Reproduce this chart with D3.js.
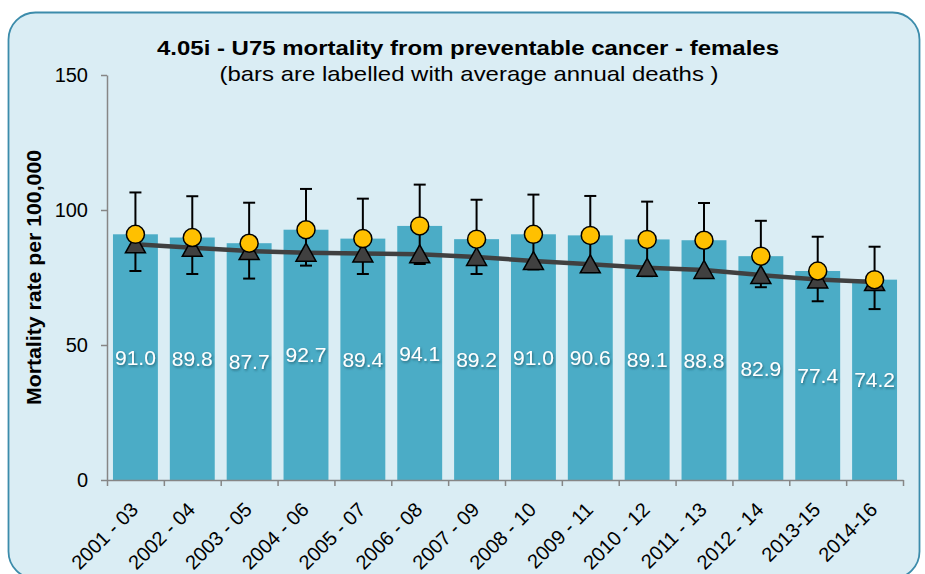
<!DOCTYPE html>
<html>
<head>
<meta charset="utf-8">
<script src="https://cdn.jsdelivr.net/npm/d3@7"></script>
<style>
  body { margin: 0; background: #fff; }
  svg { display: block; font-family: Arial, "Liberation Sans", sans-serif; }
</style>
</head>
<body>
<script>
// chart data
let categories = ['2001 - 03', '2002 - 04', '2003 - 05', '2004 - 06', '2005 - 07', '2006 - 08', '2007 - 09',
                  '2008 - 10', '2009 - 11', '2010 - 12', '2011 - 13', '2012 - 14', '2013-15', '2014-16']
let rates = [91.0, 89.8, 87.7, 92.7, 89.4, 94.1, 89.2, 91.0, 90.6, 89.1, 88.8, 82.9, 77.4, 74.2]
let upperCI = [106.5, 105.1, 102.7, 107.8, 104.2, 109.4, 103.8, 105.7, 105.2, 103.1, 102.6, 96.0, 90.1, 86.4]
let lowerCI = [77.4, 76.3, 74.6, 79.4, 76.3, 80.0, 76.3, 78.0, 77.0, 75.5, 75.0, 71.4, 66.2, 63.3]
let comparator = [87.3, 86.0, 84.8, 84.2, 83.9, 83.6, 82.6, 81.1, 79.9, 78.6, 77.8, 75.9, 74.3, 73.3]
let yTicks = [0, 50, 100, 150]

let width = 925
let height = 574
let plotLeft = 107, plotRight = 903, plotTop = 75, plotBottom = 480

let svg = d3.select('body').append('svg')
    .attr('width', width)
    .attr('height', height)

// drop shadow for bar labels
let filter = svg.append('defs').append('filter')
    .attr('id', 'shadow')
    .attr('x', '-20%').attr('y', '-20%').attr('width', '140%').attr('height', '140%')
filter.append('feDropShadow')
    .attr('dx', 1).attr('dy', 1.5).attr('stdDeviation', 0.8)
    .attr('flood-color', '#1d4f5e').attr('flood-opacity', 0.7)

// panel
svg.append('rect')
    .attr('x', 8.5).attr('y', 12.5)
    .attr('width', 911).attr('height', 566)
    .attr('rx', 27).attr('ry', 27)
    .attr('fill', '#daedf4')
    .attr('stroke', '#3c8cab')
    .attr('stroke-width', 1.8)

let xScale = d3.scaleBand()
    .domain(categories)
    .range([plotLeft, plotRight])
    .paddingInner(0.21)
    .paddingOuter(0.105)

let yScale = d3.scaleLinear()
    .domain([0, 150])
    .range([plotBottom, plotTop])

let idxScale = d3.scaleLinear()
    .domain([0, categories.length])
    .range([plotLeft, plotRight])

let cx = (i) => xScale(categories[i]) + xScale.bandwidth() / 2

// bars
svg.selectAll('.bar')
    .data(rates)
    .enter()
    .append('rect')
    .attr('class', 'bar')
    .attr('x', (d, i) => xScale(categories[i]))
    .attr('y', d => yScale(d))
    .attr('width', xScale.bandwidth())
    .attr('height', d => plotBottom - yScale(d))
    .attr('fill', '#4bacc6')

// bar labels
svg.selectAll('.bar-label')
    .data(rates)
    .enter()
    .append('text')
    .attr('class', 'bar-label')
    .attr('x', (d, i) => cx(i))
    .attr('y', d => (yScale(d) + plotBottom) / 2)
    .attr('dy', '0.36em')
    .attr('text-anchor', 'middle')
    .attr('fill', '#fff')
    .attr('font-size', 21)
    .attr('filter', 'url(#shadow)')
    .text(d => d3.format('.1f')(d))

// axes
let xAxis = d3.axisBottom(idxScale)
    .tickValues(d3.range(categories.length + 1))
    .tickFormat('')
    .tickSizeInner(6)
    .tickSizeOuter(0)
let gx = svg.append('g')
    .attr('transform', 'translate(0,' + plotBottom + ')')
    .call(xAxis)
gx.selectAll('path, line').attr('stroke', '#868686').attr('stroke-width', 1.5)

let yAxis = d3.axisLeft(yScale)
    .tickValues(yTicks)
    .tickSizeInner(6)
    .tickSizeOuter(0)
    .tickPadding(13)
let gy = svg.append('g')
    .attr('transform', 'translate(' + plotLeft + ',0)')
    .call(yAxis)
gy.selectAll('path, line').attr('stroke', '#868686').attr('stroke-width', 1.5)
gy.selectAll('text')
    .attr('font-size', 20)
    .attr('font-family', 'Arial, "Liberation Sans", sans-serif')
    .attr('fill', '#000')

// x labels
svg.selectAll('.x-label')
    .data(categories)
    .enter()
    .append('text')
    .attr('class', 'x-label')
    .attr('transform', (d, i) => `translate(${cx(i) + 4}, 511) rotate(-45)`)
    .attr('text-anchor', 'end')
    .attr('font-size', 20)
    .attr('fill', '#000')
    .text(d => d)

// error bars
let err = svg.append('g')
err.selectAll('.err-v')
    .data(rates)
    .enter()
    .append('line')
    .attr('x1', (d, i) => cx(i)).attr('x2', (d, i) => cx(i))
    .attr('y1', (d, i) => yScale(upperCI[i]))
    .attr('y2', (d, i) => yScale(lowerCI[i]))
    .attr('stroke', '#000').attr('stroke-width', 2)
err.selectAll('.err-top')
    .data(upperCI)
    .enter()
    .append('line')
    .attr('x1', (d, i) => cx(i) - 6).attr('x2', (d, i) => cx(i) + 6)
    .attr('y1', d => yScale(d)).attr('y2', d => yScale(d))
    .attr('stroke', '#000').attr('stroke-width', 2)
err.selectAll('.err-bot')
    .data(lowerCI)
    .enter()
    .append('line')
    .attr('x1', (d, i) => cx(i) - 6).attr('x2', (d, i) => cx(i) + 6)
    .attr('y1', d => yScale(d)).attr('y2', d => yScale(d))
    .attr('stroke', '#000').attr('stroke-width', 2)

// comparator line + triangles
let line = d3.line()
    .x((d, i) => cx(i))
    .y(d => yScale(d))
svg.append('path')
    .datum(comparator)
    .attr('d', line)
    .attr('fill', 'none')
    .attr('stroke', '#404040')
    .attr('stroke-width', 4.5)

svg.selectAll('.tri')
    .data(comparator)
    .enter()
    .append('path')
    .attr('class', 'tri')
    .attr('d', 'M0,-9.5L10,8.5L-10,8.5Z')
    .attr('transform', (d, i) => `translate(${cx(i)},${yScale(d)})`)
    .attr('fill', '#404040')
    .attr('stroke', '#000')
    .attr('stroke-width', 1.5)

// rate points
svg.selectAll('.dot')
    .data(rates)
    .enter()
    .append('circle')
    .attr('class', 'dot')
    .attr('cx', (d, i) => cx(i))
    .attr('cy', d => yScale(d))
    .attr('r', 9)
    .attr('fill', '#ffc000')
    .attr('stroke', '#000')
    .attr('stroke-width', 1.5)

// titles
svg.append('text')
    .attr('x', 468).attr('y', 55)
    .attr('text-anchor', 'middle')
    .attr('font-size', 21)
    .attr('font-weight', 'bold')
    .attr('textLength', 622)
    .attr('lengthAdjust', 'spacingAndGlyphs')
    .text('4.05i - U75 mortality from preventable cancer - females')

svg.append('text')
    .attr('x', 469).attr('y', 81)
    .attr('text-anchor', 'middle')
    .attr('font-size', 21)
    .attr('textLength', 499)
    .attr('lengthAdjust', 'spacingAndGlyphs')
    .text('(bars are labelled with average annual deaths )')

svg.append('text')
    .attr('transform', `translate(41, 277.5) rotate(-90)`)
    .attr('text-anchor', 'middle')
    .attr('font-size', 20)
    .attr('font-weight', 'bold')
    .attr('textLength', 255)
    .attr('lengthAdjust', 'spacingAndGlyphs')
    .text('Mortality rate per 100,000')
</script>
</body>
</html>
